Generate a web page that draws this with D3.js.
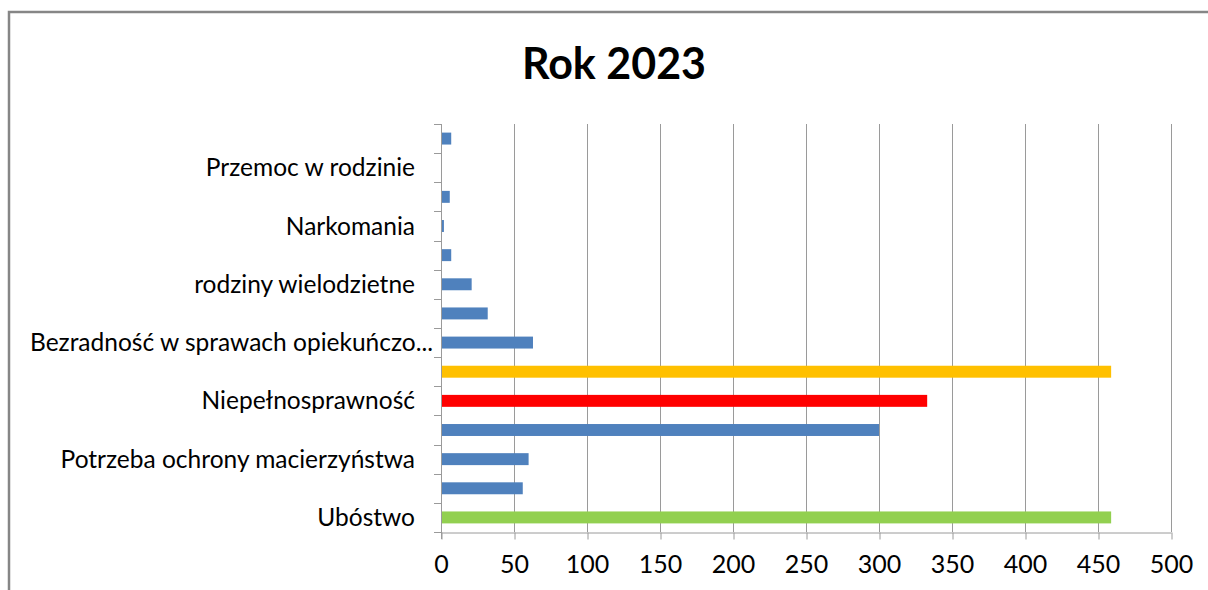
<!DOCTYPE html>
<html>
<head>
<meta charset="utf-8">
<script src="https://cdn.jsdelivr.net/npm/d3@7"></script>
<style>
  body { margin: 0; background: #fff; }
  svg { display: block; font-family: Lato, "Open Sans", sans-serif; }
</style>
</head>
<body>
<div id="chart"></div>
<script>
// categories listed bottom -> top, as in the picture
var categories = [
    "Ubóstwo",
    "Bezdomność",
    "Potrzeba ochrony macierzyństwa",
    "Bezrobocie",
    "Niepełnosprawność",
    "Długotrwała lub ciężka choroba",
    "Bezradność w sprawach opiekuńczo-wychowawczych",
    "rodziny niepełne",
    "rodziny wielodzietne",
    "Alkoholizm",
    "Narkomania",
    "Trudności w przystosowaniu do życia po zwolnieniu z zakładu karnego",
    "Przemoc w rodzinie",
    "Zdarzenia losowe"
];
var values = [459, 56, 60, 300, 333, 459, 63, 32, 21, 7, 2, 6, 0, 7];
var xTicks = [0, 50, 100, 150, 200, 250, 300, 350, 400, 450, 500];
var title = "Rok 2023";

// bar colours (everything not listed is the default blue)
var highlight = {
    "Ubóstwo": "#92D050",
    "Niepełnosprawność": "#FF0000",
    "Długotrwała lub ciężka choroba": "#FFC000"
};
var defaultColor = "#4F81BD";

var width = 1208, height = 590;
var plot = {left: 441, right: 1171, top: 124, bottom: 532};

var svg = d3.select("#chart").append("svg")
    .attr("width", width)
    .attr("height", height);

// chart frame
svg.append("rect")
    .attr("x", 9).attr("y", 12)
    .attr("width", 1230).attr("height", 620)
    .attr("fill", "#fff")
    .attr("stroke", "#868686")
    .attr("stroke-width", 2.5);

svg.append("text")
    .attr("x", 614).attr("y", 79)
    .attr("text-anchor", "middle")
    .attr("font-size", 43)
    .attr("font-weight", "bold")
    .attr("fill", "#000")
    .text(title);

var x = d3.scaleLinear()
    .domain([0, 500])
    .range([plot.left, plot.right]);

var y = d3.scaleBand()
    .domain(categories)
    .range([plot.bottom, plot.top])
    .paddingInner(0.59)
    .paddingOuter(0.295);

var yBounds = d3.scaleLinear()
    .domain([0, categories.length])
    .range([plot.bottom, plot.top]);

// vertical gridlines
svg.append("g")
    .selectAll("line")
    .data(xTicks.slice(1))
    .enter()
        .append("line")
        .attr("x1", function(d){ return x(d) + 0.5; })
        .attr("x2", function(d){ return x(d) + 0.5; })
        .attr("y1", plot.top)
        .attr("y2", plot.bottom)
        .attr("stroke", "#9a9a9a")
        .attr("stroke-width", 1);

// x axis
var xAxis = svg.append("g")
    .attr("transform", "translate(0," + (plot.bottom + 0.5) + ")")
    .call(d3.axisBottom(x).tickValues(xTicks).tickSize(7).tickSizeOuter(0).tickPadding(16));

xAxis.select(".domain").attr("stroke", "#9a9a9a");
xAxis.selectAll(".tick line").attr("stroke", "#9a9a9a").attr("transform", "translate(0.5,0)");
xAxis.selectAll(".tick text")
    .attr("font-size", 25)
    .attr("font-family", "Lato, sans-serif")
    .attr("fill", "#000");

// y axis: line, boundary ticks
svg.append("line")
    .attr("x1", plot.left + 0.5).attr("x2", plot.left + 0.5)
    .attr("y1", plot.top).attr("y2", plot.bottom + 7)
    .attr("stroke", "#9a9a9a");

svg.append("g")
    .selectAll("line")
    .data(d3.range(categories.length + 1))
    .enter()
        .append("line")
        .attr("x1", plot.left - 7)
        .attr("x2", plot.left)
        .attr("y1", function(d){ return Math.round(yBounds(d)) + 0.5; })
        .attr("y2", function(d){ return Math.round(yBounds(d)) + 0.5; })
        .attr("stroke", "#9a9a9a");

// category labels: Excel shows only every second one, long ones get cut
var maxChars = 32;
function shortLabel(s) {
    return s.length > maxChars ? s.slice(0, maxChars) + "..." : s;
}

svg.append("g")
    .selectAll("text")
    .data(categories.filter(function(d, i){ return i % 2 == 0; }))
    .enter()
        .append("text")
        .attr("x", function(d){ return d.length > maxChars ? plot.left - 8 : plot.left - 26; })
        .attr("y", function(d){ return y(d) + y.bandwidth() / 2; })
        .attr("dy", "0.35em")
        .attr("text-anchor", "end")
        .attr("font-size", 24.5)
        .attr("fill", "#000")
        .text(function(d){ return shortLabel(d); });

// bars
svg.append("g")
    .selectAll("rect")
    .data(categories)
    .enter()
        .append("rect")
        .attr("x", x(0) + 1)
        .attr("y", function(d){ return y(d); })
        .attr("width", function(d, i){ return Math.max(0, x(values[i]) - x(0) - 1); })
        .attr("height", y.bandwidth())
        .attr("fill", function(d){ return highlight[d] || defaultColor; });
</script>
</body>
</html>
